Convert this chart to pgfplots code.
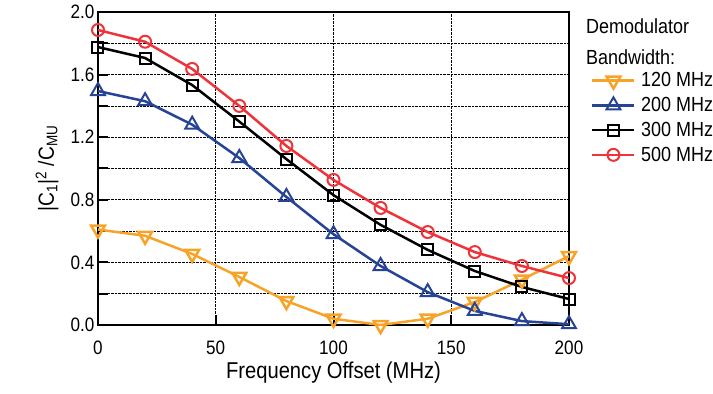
\documentclass[border=0pt]{standalone}
\usepackage{fontspec}
\setmainfont{Liberation Sans}[FakeStretch=0.88]
\usepackage{pgfplots}
\pgfplotsset{compat=1.18}
\definecolor{corange}{RGB}{247,163,40}
\definecolor{cblue}{RGB}{38,67,150}
\definecolor{cred}{RGB}{238,52,58}
\begin{document}
\begin{tikzpicture}
\begin{axis}[name=ax, scale only axis, width=471bp, height=313bp,
  xmin=0, xmax=200, ymin=0, ymax=2,
  xtick={0,50,100,150,200},
  ytick={0,0.4,0.8,1.2,1.6,2.0},
  minor ytick={0.2,0.6,1.0,1.4,1.8},
  yticklabel style={/pgf/number format/fixed, /pgf/number format/fixed zerofill, /pgf/number format/precision=1},
  /pgf/number format/assume math mode=true,
  tick pos=left, tick align=inside,
  major tick length=10bp, minor tick length=10bp,
  tick style={black, line width=2bp},
  xmajorgrids, ymajorgrids, yminorgrids,
  major grid style={densely dotted, black, line width=0.6bp},
  minor grid style={densely dotted, black, line width=0.6bp},
  axis line style={line width=2.5bp},
  tick label style={font=\fontsize{19.5}{23}\selectfont},
  xticklabel style={anchor=base, yshift=-29bp},
  label style={font=\fontsize{23}{27}\selectfont},
  xlabel={Frequency Offset (MHz)},
  xlabel style={at={(axis description cs:0.5,-0.1725)}, anchor=base},
  ylabel={|C\textsubscript{1}|\textsuperscript{2} /C\textsubscript{MU}},
  ylabel style={at={(axis description cs:-0.108,0.5)}, anchor=center, font=\fontsize{22}{26}\selectfont},
  legend style={at={(rel axis cs:1,1)}, anchor=north west, xshift=22bp, yshift=-59bp,
    draw=none, fill=none, inner sep=0pt, row sep=6bp, nodes={inner sep=1.5bp},
    font=\fontsize{20.5}{24}\selectfont,
    /tikz/every odd column/.append style={column sep=4bp}},
  legend cell align=left,
  legend image code/.code={\draw[mark repeat=2,mark phase=2] plot coordinates {(0bp,0bp) (21bp,0bp) (42bp,0bp)};},
  every axis plot/.append style={line width=2.5bp, mark options={line width=2bp, solid, fill=white}},
]
\addplot[corange, mark=triangle, mark size=8bp, mark options={rotate=180}] coordinates {
(0,0.61) (20,0.57) (40,0.454) (60,0.307) (80,0.153) (100,0.04) (120,0.0) (140,0.04) (160,0.147) (180,0.29) (200,0.44)};
\addlegendentry{120 MHz}
\addplot[cblue, mark=triangle, mark size=8bp] coordinates {
(0,1.495) (20,1.43) (40,1.28) (60,1.067) (80,0.818) (100,0.58) (120,0.377) (140,0.21) (160,0.09) (180,0.025) (200,0.005)};
\addlegendentry{200 MHz}
\addplot[black, mark=square, mark size=5.5bp] coordinates {
(0,1.776) (20,1.706) (40,1.533) (60,1.30) (80,1.06) (100,0.83) (120,0.64) (140,0.48) (160,0.345) (180,0.243) (200,0.166)};
\addlegendentry{300 MHz}
\addplot[cred, mark=o, mark size=6bp] coordinates {
(0,1.885) (20,1.81) (40,1.636) (60,1.40) (80,1.144) (100,0.927) (120,0.748) (140,0.594) (160,0.466) (180,0.377) (200,0.30)};
\addlegendentry{500 MHz}
\end{axis}
\node[anchor=base west, font=\fontsize{20.5}{24}\selectfont, inner sep=0pt] at ([shift={(17bp,-22bp)}]ax.north east) {Demodulator};
\node[anchor=base west, font=\fontsize{20.5}{24}\selectfont, inner sep=0pt] at ([shift={(17bp,-53bp)}]ax.north east) {Bandwidth:};
\pgfresetboundingbox
\path ([shift={(-98bp,-69bp)}]ax.south west) rectangle ([shift={(144bp,12bp)}]ax.north east);
\end{tikzpicture}
\end{document}
